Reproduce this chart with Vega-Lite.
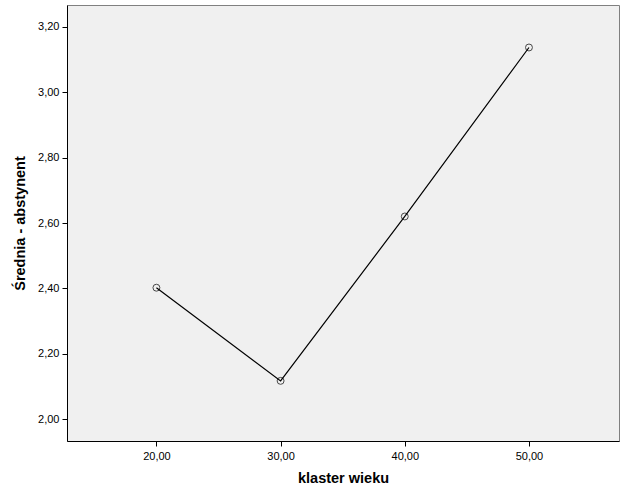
{
  "$schema": "https://vega.github.io/schema/vega-lite/v6.json",
  "autosize": "none",
  "width": 552,
  "height": 436,
  "padding": {"left": 67, "top": 5, "right": 7, "bottom": 60},
  "background": "white",
  "config": {
    "view": {"fill": "#f0f0f0", "stroke": "#808080", "strokeWidth": 1},
    "font": "Liberation Sans"
  },
  "data": {
    "values": [
      {"wiek": 20, "srednia": 2.402},
      {"wiek": 30, "srednia": 2.117},
      {"wiek": 40, "srednia": 2.620},
      {"wiek": 50, "srednia": 3.137}
    ]
  },
  "encoding": {
    "x": {
      "field": "wiek", "type": "quantitative",
      "scale": {"domain": [12.8, 57.25], "nice": false, "zero": false},
      "axis": {
        "title": "klaster wieku", "values": [20, 30, 40, 50],
        "labelExpr": "replace(format(datum.value, '.2f'), '.', ',')",
        "grid": false, "domainColor": "black", "tickColor": "black", "tickSize": 5,
        "labelFontSize": 11, "labelColor": "black", "labelPadding": 4,
        "titleFontSize": 14.5, "titleFontWeight": "bold", "titleColor": "black", "titlePadding": 10
      }
    },
    "y": {
      "field": "srednia", "type": "quantitative",
      "scale": {"domain": [1.933, 3.267], "nice": false, "zero": false},
      "axis": {
        "title": "Średnia - abstynent", "values": [2.0, 2.2, 2.4, 2.6, 2.8, 3.0, 3.2],
        "labelExpr": "replace(format(datum.value, '.2f'), '.', ',')",
        "grid": false, "domainColor": "black", "tickColor": "black", "tickSize": 5,
        "labelFontSize": 11, "labelColor": "black", "labelPadding": 3,
        "titleFontSize": 14.5, "titleFontWeight": "bold", "titleColor": "black", "titlePadding": 10
      }
    }
  },
  "layer": [
    {"mark": {"type": "line", "color": "black", "strokeWidth": 1.2}},
    {"mark": {"type": "point", "shape": "circle", "filled": false, "color": "black", "size": 48, "strokeWidth": 1}}
  ]
}
